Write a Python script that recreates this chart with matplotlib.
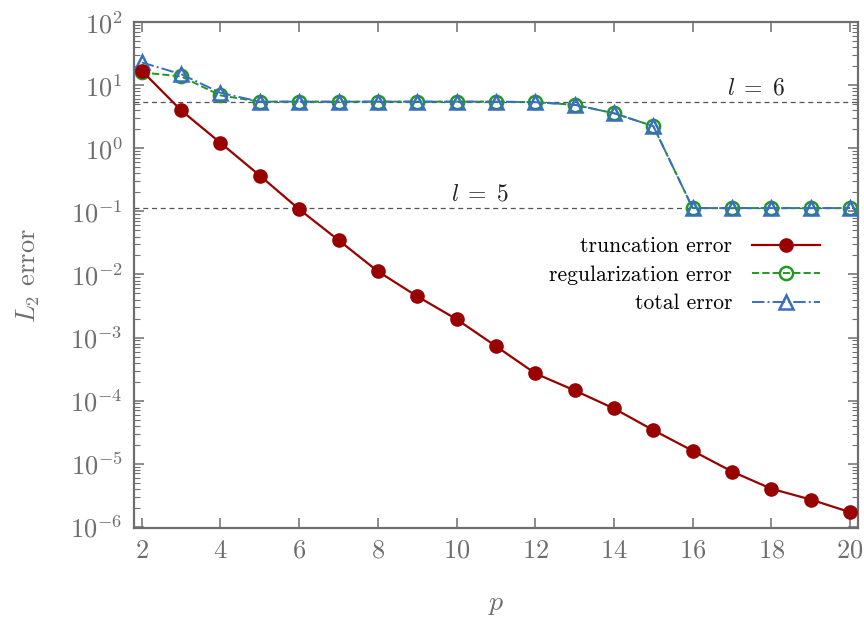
import numpy as np
import matplotlib
matplotlib.use("Agg")
import matplotlib.pyplot as plt
from matplotlib.ticker import LogLocator, MultipleLocator, NullFormatter

plt.rcParams['font.family'] = ['cmr10', 'DejaVu Serif']
plt.rcParams['mathtext.fontset'] = 'cm'
plt.rcParams['axes.formatter.use_mathtext'] = True

p = list(range(2, 21))
truncation = [17.0, 4.0, 1.22, 0.37, 0.108, 0.035, 0.0112, 0.0045, 0.00195,
              7.3e-4, 2.7e-4, 1.45e-4, 7.5e-5, 3.4e-5, 1.6e-5, 7.5e-6,
              4.0e-6, 2.7e-6, 1.7e-6]
regularization = [16.0, 13.8, 6.9, 5.5, 5.5, 5.5, 5.5, 5.5, 5.5, 5.5, 5.4,
                  4.9, 3.6, 2.25, 0.113, 0.113, 0.113, 0.113, 0.113]
total = [23.0, 15.0, 7.6, 5.5, 5.5, 5.5, 5.5, 5.5, 5.5, 5.5, 5.4,
         4.9, 3.6, 2.25, 0.113, 0.113, 0.113, 0.113, 0.113]
level_values = [5.5, 0.113]
level_labels = [r'$l\;=\;6$', r'$l\;=\;5$']
level_text_x = [17.6, 10.6]

gray = '#6e6e6e'
red = '#990000'
green = '#229922'
blue = '#3a6ec0'

fig = plt.figure(figsize=(8.64, 6.17), dpi=100)
ax = fig.add_axes([0.155, 0.144, 0.838, 0.820])

for val, lab, tx in zip(level_values, level_labels, level_text_x):
    ax.axhline(val, color='#555555', lw=0.9, ls=(0, (4, 3)), zorder=1)
    ax.text(tx, val * 1.1, lab, fontsize=17, ha='center', va='bottom',
            color='#222222')

ax.plot(p, total, color=blue, lw=1.4, ls='-.', marker='^', ms=9.5,
        mfc='none', mec=blue, mew=1.8, label='total error', zorder=3)
ax.plot(p, regularization, color=green, lw=1.4, ls='--', marker='o', ms=9.5,
        mfc='none', mec=green, mew=1.8, label='regularization error', zorder=2)
ax.plot(p, truncation, color=red, lw=1.6, ls='-', marker='o', ms=9.5,
        mfc=red, mec=red, label='truncation error', zorder=4)

ax.set_yscale('log')
ax.set_xlim(1.8, 20.2)
ax.set_ylim(0.95e-6, 1e2)
ax.xaxis.set_major_locator(MultipleLocator(2))
ax.yaxis.set_major_locator(LogLocator(base=10, numticks=20))
ax.yaxis.set_minor_locator(LogLocator(base=10, subs=np.arange(2, 10), numticks=20))
ax.yaxis.set_minor_formatter(NullFormatter())

for s in ax.spines.values():
    s.set_color(gray)
    s.set_linewidth(1.6)

ax.tick_params(which='both', direction='in', top=True, right=True,
               color=gray, labelcolor=gray, labelsize=19)
ax.tick_params(which='major', length=7, width=1.1, pad=8)
ax.tick_params(which='minor', length=4, width=0.8)
ax.tick_params(axis='x', which='minor', top=False, bottom=False)

ax.set_xlabel(r'$p$', fontsize=20, color=gray, labelpad=20)
ax.set_ylabel(r'$L_2$ error', fontsize=19, color=gray, labelpad=20)

handles, labels = ax.get_legend_handles_labels()
order = [2, 1, 0]
leg = ax.legend([handles[i] for i in order], [labels[i] for i in order],
                loc='center right', bbox_to_anchor=(0.975, 0.50),
                frameon=False, markerfirst=False, fontsize=15.5,
                handlelength=3.2, labelspacing=0.42, handletextpad=0.9)

fig.savefig('out.png', dpi=100)
